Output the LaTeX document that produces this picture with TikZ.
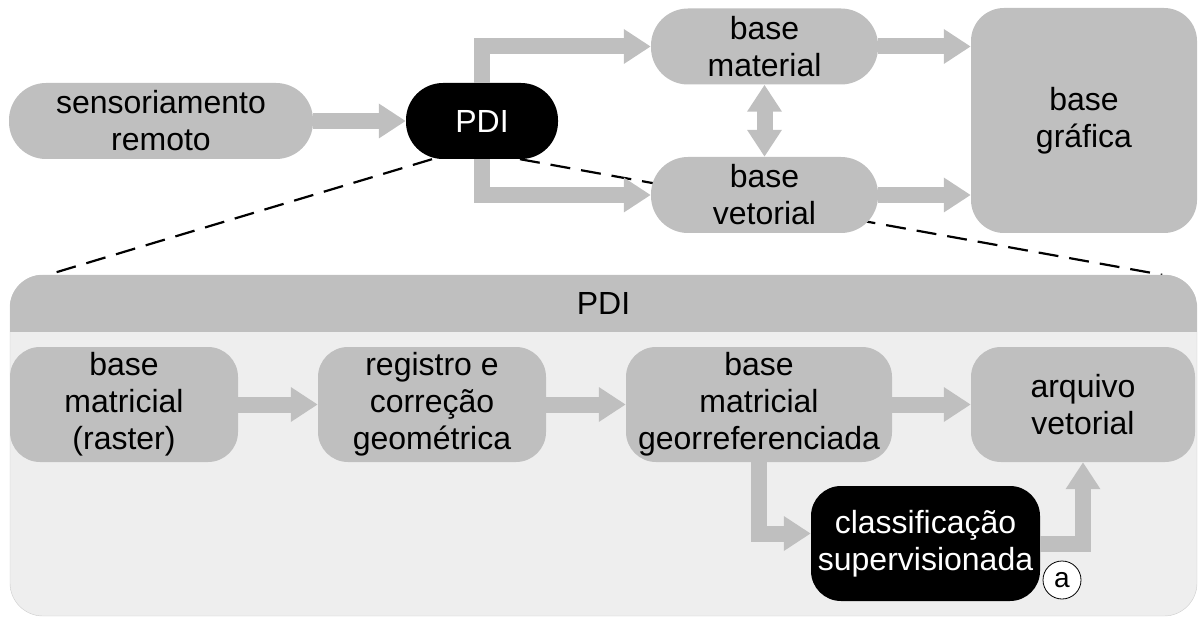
\documentclass[tikz,border=0pt]{standalone}
\usepackage{fontspec}
\setmainfont{Liberation Sans}
\usetikzlibrary{arrows.meta,backgrounds}
\definecolor{boxgray}{HTML}{BFBFBF}
\definecolor{panelgray}{HTML}{EEEEEE}

\begin{document}
\begin{tikzpicture}[x=1pt,y=-1pt,
    box/.style={fill=boxgray,inner sep=0,align=center,font=\boxfont},
    pill/.style={box,rounded corners=37pt,minimum height=76pt},
    block/.style={box,rounded corners=30pt,minimum height=115pt},
    dark/.style={fill=black,text=white},
    flow/.style={line width=16pt,draw=boxgray,-{Triangle[length=27pt,width=33pt]}},
    bothflow/.style={flow,{Triangle[length=27pt,width=33pt]}-{Triangle[length=27pt,width=33pt]}},
    zoomline/.style={line width=2.2pt,dash pattern=on 20pt off 11pt}]
    \providecommand{\boxfont}{\fontsize{32}{37}\selectfont}
    \pgfmathsetmacro{\panelround}{33}
    \pgfmathsetmacro{\headerheight}{57}
    \useasboundingbox (0,0) rectangle (1198,617);

    % upper row
    \node[pill,minimum width=304pt] (sens) at (161,121) {sensoriamento\\remoto};
    \node[pill,dark,minimum width=152pt] (pdi) at (482,121) {PDI};
    \node[pill,minimum width=227pt] (mat) at (764.5,46.5) {base\\material};
    \node[pill,minimum width=227pt] (vet) at (764.5,195) {base\\vetorial};
    \node[box,rounded corners=\panelround pt,minimum width=226pt,minimum height=225pt] (graf) at (1084,120.5) {base\\gráfica};

    % PDI panel
    \node[fill=panelgray,draw=boxgray!80,rounded corners=\panelround pt,minimum width=1187pt,minimum height=341pt,inner sep=0] (panel) at (603.5,445.5) {};
    \begin{scope}
        \clip[rounded corners=\panelround pt] (panel.south west) rectangle (panel.north east);
        \fill[boxgray] (panel.north west) rectangle ([yshift=-\headerheight pt]panel.north east);
    \end{scope}
    \node[font=\boxfont] (paneltitle) at (603.5,303.5) {PDI};

    \node[block,minimum width=228pt] (raster) at (124,404.5) {base\\matricial\\(raster)};
    \node[block,minimum width=228pt] (reg) at (432,404.5) {registro e\\correção\\geométrica};
    \node[block,minimum width=266pt] (geo) at (759,404.5) {base\\matricial\\georreferenciada};
    \node[block,minimum width=224pt] (arq) at (1083,404.5) {arquivo\\vetorial};
    \node[block,dark,minimum width=229pt] (cls) at (925.5,543.5) {classificação\\supervisionada};
    \node[circle,draw,line width=0.8pt,fill=white,inner sep=0,minimum size=38pt,font=\fontsize{28}{30}\selectfont] (tag) at (1062,580) {a};

    % connectors
    \draw[flow] (sens) -- (pdi);
    \draw[flow] (pdi.north) |- (mat.west);
    \draw[flow] (pdi.south) |- (vet.west);
    \draw[bothflow] (mat) -- (vet);
    \draw[flow] (mat.east) -- (mat.east -| graf.west);
    \draw[flow] (vet.east) -- (vet.east -| graf.west);
    \draw[flow] (raster) -- (reg);
    \draw[flow] (reg) -- (geo);
    \draw[flow] (geo) -- (arq);
    \draw[flow] (geo.south) |- ([yshift=10pt]cls.west);
    \draw[flow] (cls.east) -| (arq.south);

    \begin{scope}[on background layer]
        \draw[zoomline] ([xshift=-50pt]pdi.south) -- ([xshift=38pt]panel.north west);
        \draw[zoomline] ([xshift=38pt]pdi.south) -- ([xshift=-35pt]panel.north east);
    \end{scope}
\end{tikzpicture}
\end{document}
